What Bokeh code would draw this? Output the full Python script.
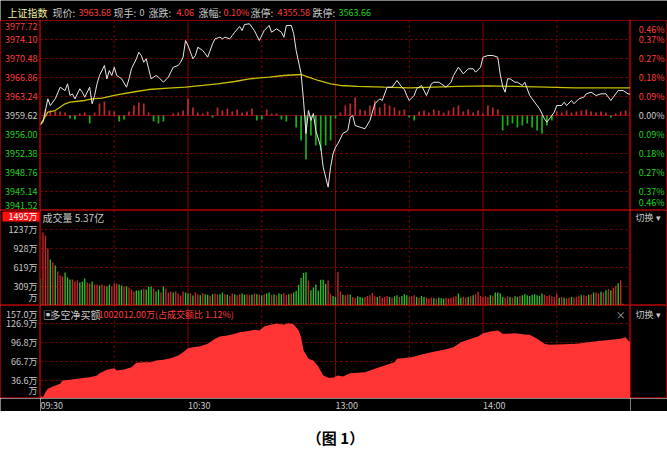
from bokeh.plotting import figure
from bokeh.layouts import column, row
from bokeh.models import Range1d, Span, BoxAnnotation
from bokeh.core.properties import value
from bokeh.embed import file_html
from bokeh.resources import INLINE

# ---------------- data ----------------
prev_close = 3959.62
price_ticks = [3977.72, 3974.10, 3970.48, 3966.86, 3963.24, 3959.62,
               3956.00, 3952.38, 3948.76, 3945.14, 3941.52]
pct_labels = ["0.46%", "0.37%", "0.27%", "0.18%", "0.09%", "0.00%",
              "0.09%", "0.18%", "0.27%", "0.37%", "0.46%"]
time_ticks = [0, 60, 120, 180]
time_labels = ["09:30", "10:30", "13:00", "14:00"]
half_hour_ticks = [30, 90, 150, 210]

price_min = [0, 1, 3, 4, 6, 8, 10, 11, 12, 13, 14, 16, 17, 18, 20, 21, 22, 23, 24, 26,
             27, 28, 29, 30, 31, 32, 33, 35, 36, 37, 39, 40, 41, 42, 43, 44, 45, 47, 48, 50,
             52, 53, 54, 56, 57, 58, 59, 60, 62, 63, 64, 66, 67, 68, 70, 71, 73, 74, 75, 77,
             78, 79, 81, 82, 83, 85, 87, 89, 91, 93, 94, 96, 98, 99, 100, 102, 103, 104, 106, 107,
             108, 109, 110, 111, 112, 114, 115, 117, 118, 119, 120, 121, 123, 125, 126, 127, 128, 130, 132, 134,
             136, 138, 139, 141, 143, 145, 147, 148, 149, 150, 152, 153, 155, 157, 159, 160, 162, 163, 165, 167,
             168, 170, 172, 174, 176, 177, 179, 180, 182, 184, 186, 187, 188, 189, 190, 191, 193, 194, 196, 197,
             199, 201, 203, 205, 206, 207, 209, 210, 212, 213, 214, 216, 217, 219, 221, 222, 224, 226, 228, 230,
             232, 233, 235, 237, 239, 240]
price_val = [3957.85, 3958.34, 3962.80, 3961.52, 3962.80, 3965.01, 3964.38, 3965.66, 3963.43, 3963.75,
             3962.80, 3964.71, 3964.06, 3963.11, 3965.01, 3961.85, 3963.43, 3965.66, 3967.24, 3969.15,
             3966.61, 3968.19, 3967.24, 3968.82, 3967.24, 3966.92, 3966.61, 3965.01, 3966.61, 3968.52,
             3970.42, 3971.68, 3971.05, 3969.77, 3970.42, 3968.52, 3966.61, 3967.24, 3966.92, 3965.96,
             3966.92, 3967.87, 3968.82, 3969.15, 3969.77, 3970.73, 3973.91, 3972.96, 3970.42, 3971.05,
             3972.63, 3972.00, 3971.38, 3970.73, 3973.28, 3974.23, 3974.54, 3974.23, 3974.54, 3974.23,
             3974.86, 3975.49, 3976.58, 3975.81, 3976.96, 3977.09, 3975.81, 3973.91, 3975.81, 3976.77,
             3975.49, 3976.14, 3975.49, 3974.54, 3976.77, 3976.77, 3975.19, 3972.00, 3967.62, 3962.48,
             3956.19, 3960.57, 3958.67, 3960.00, 3956.76, 3953.58, 3949.77, 3945.96, 3949.77, 3952.32,
             3953.58, 3954.28, 3956.19, 3956.76, 3959.30, 3959.62, 3957.71, 3957.39, 3957.09, 3958.67,
             3961.85, 3962.80, 3962.48, 3965.01, 3965.01, 3966.29, 3965.01, 3964.60, 3963.43, 3962.48,
             3963.43, 3964.71, 3965.34, 3963.43, 3965.66, 3965.96, 3965.96, 3965.66, 3965.01, 3965.96,
             3967.24, 3968.82, 3967.56, 3968.52, 3968.52, 3967.87, 3968.82, 3970.73, 3971.05, 3971.05,
             3970.73, 3967.50, 3965.15, 3964.06, 3966.61, 3966.61, 3965.96, 3965.96, 3965.34, 3965.96,
             3963.43, 3962.15, 3960.90, 3958.99, 3958.34, 3958.99, 3960.25, 3961.52, 3961.52, 3962.15,
             3961.52, 3962.48, 3961.85, 3962.80, 3963.11, 3963.75, 3964.06, 3963.43, 3963.75, 3963.75,
             3962.48, 3963.11, 3964.38, 3964.38, 3963.75, 3963.68]

avg_min = [0, 3, 6, 10, 12, 18, 21, 25, 31, 39, 44, 52, 59, 66, 72, 79, 85, 93, 99, 106,
           109, 113, 118, 122, 129, 140, 150, 170, 182, 193, 206, 217, 240]
avg_val = [3957.90, 3960.25, 3960.57, 3961.85, 3962.15, 3962.48, 3962.80, 3962.92, 3963.56, 3964.19,
           3964.57, 3964.82, 3965.01, 3965.34, 3965.66, 3966.10, 3966.61, 3966.92, 3967.24, 3967.43,
           3966.92, 3966.29, 3965.66, 3965.34, 3965.15, 3965.01, 3964.90, 3965.15, 3965.28, 3965.15,
           3965.01, 3964.90, 3964.90]

# buy/sell strength bars in the price panel (every 2 minutes, offset from previous close)
strength_min = list(range(0, 241, 2))
strength_val = [0.00, 1.14, 0.95, 0.76, 0.76, 0.57, -0.57, -0.76, 0.38, 0.57,
                -1.52, 0.57, 2.29, 2.67, 0.95, 0.76, -1.14, -0.76, 0.76, 1.91,
                2.48, 2.29, 0.57, -1.14, -1.52, -1.14, 0.00, 0.38, 0.57, 0.95,
                3.24, 1.52, 0.57, 0.38, 0.76, -0.38, 1.52, 0.95, 1.33, 0.76,
                1.14, 0.57, 0.76, 1.33, -0.95, -0.76, 1.14, 0.38, 0.38, -0.76,
                -1.14, 0.00, -2.29, -4.76, -8.38, -3.81, -5.72, -6.67, -5.72, -4.76,
                -0.57, 0.57, 1.91, 2.29, 3.43, 1.14, 0.95, 1.91, 2.86, 1.52,
                2.29, 1.91, 1.52, 0.95, 1.14, -0.38, -0.95, 0.76, 0.95, 0.57,
                1.14, 0.95, 0.57, 0.95, 1.52, 1.91, 0.76, 1.14, 0.57, 0.95,
                0.38, 1.91, 1.52, 1.14, -2.86, -1.91, -1.52, -2.29, -1.91, -1.52,
                -2.29, -2.86, -3.43, -1.91, -0.95, 0.76, 0.57, 0.95, 0.57, 0.76,
                0.95, 1.14, 0.76, 0.57, 0.76, 0.57, -0.38, 0.38, 0.76, 0.95, 0.57]

# volume per minute (万股) and direction (R up / G down)
vol_min = list(range(241))
vol_val = [439, 1187, 1138, 927, 748, 700, 650, 553, 488, 471,
           537, 455, 423, 423, 390, 407, 374, 390, 439, 374,
           358, 390, 341, 341, 325, 341, 325, 309, 341, 309,
           358, 358, 341, 325, 309, 309, 293, 260, 228, 244,
           244, 260, 276, 260, 309, 309, 276, 228, 260, 211,
           309, 276, 211, 228, 211, 228, 195, 163, 228, 211,
           195, 195, 163, 211,
           184, 167, 200, 184, 173, 156, 184, 195, 173, 184,
           212, 184, 173, 156, 195, 184, 167, 184, 195, 173,
           184, 167, 173, 195, 184, 173, 167, 184, 195, 212,
           173, 184, 167, 195, 184, 200, 173, 184, 195, 212,
           240, 334, 446, 529, 540, 407, 250, 295, 340, 240,
           418, 418, 351, 407, 184, 156, 140,
           546, 223, 173, 167, 184, 173, 140, 128, 150, 140,
           128, 140, 156, 167, 200, 150, 140, 156, 128, 140,
           156, 140, 128, 150, 167, 140, 156, 184, 167, 140,
           150, 167, 140, 128, 156, 140, 128, 112, 128, 117,
           112, 128, 117, 112, 128, 117, 128, 140, 150, 195,
           128, 140, 128, 140, 150, 167, 184, 223, 156, 140,
           150, 140, 167, 156, 212, 212, 200, 140, 128, 150,
           140, 128, 150, 140, 156, 167, 184, 167, 156, 173,
           184, 167, 156, 195, 173, 156, 167, 150, 140, 195,
           128, 140, 128, 117, 128, 140, 128, 140, 150, 167,
           167, 156, 173, 184, 212, 212, 200, 223, 212, 250,
           267, 250, 284, 323, 362, 407, 30, 0, 0, 0]
vol_dir = ("GRRRGRGRRRGGGRRRGGGRRGRRGRRGGRRRGGRGRRRGGGRGGGRGGRGRRRGRRRRGGRGR"
           "RGRGGRGRRGGRGRRGRRGGRRGRGRGRGGRGRGGRRGRG"
           "GGGGGRGGGGGGGRRGG"
           "RRGRRGRRGGGRRRRRGRRRRGRGGRGGGRRRGRGGRRRGRGGGRRRRRG"
           "GRRGRGRRRRRRGRGGGGRRGRGGRGGGGGGGGGRRRRRRGRGRRGRRRG"
           "RRGRGRRGRGRGRRGRRGRR")

vol_ticks = [1237, 928, 619, 309]
vol_tick_labels = ["1237万", "928万", "619万", "309万"]
vol_max_label = "1495万"
vol_total_label = "成交量 5.37亿"

# 多空净买额 (万)
nb_min = [0, 1, 2, 3, 5, 8, 9, 12, 15, 18, 20, 23, 24, 27, 30, 31, 34, 37, 39, 42,
          45, 47, 50, 53, 56, 58, 60, 62, 65, 68, 71, 73, 76, 79, 81, 84, 87, 89, 91, 94,
          96, 99, 101, 103, 105, 106, 107, 109, 111, 113, 115, 117, 119, 121, 123, 126, 132, 136, 140, 144,
          145, 151, 155, 159, 164, 168, 171, 175, 178, 180, 183, 186, 188, 190, 193, 197, 199, 202, 205, 207,
          213, 218, 222, 226, 229, 233, 236, 238, 239, 240]
nb_val = [12.8, 10.2, 18.1, 23.4, 27.1, 31.4, 36.6, 37.7, 39.3, 40.9, 41.8, 44.5, 48.2, 53.5, 56.1, 52.4, 54.0, 57.7, 64.6, 65.6,
          65.6, 68.3, 69.4, 71.9, 76.2, 81.4, 87.8, 89.4, 90.9, 94.7, 102.7, 106.3, 107.9, 110.6, 113.2, 114.7, 117.0, 115.8, 122.1, 125.3,
          126.4, 125.3, 127.4, 125.3, 115.8, 105.2, 84.1, 70.9, 68.3, 58.8, 44.5, 40.9, 40.9, 44.5, 42.9, 48.2, 49.8, 55.1, 60.4, 65.6,
          71.0, 73.5, 77.8, 81.4, 85.3, 89.4, 97.3, 102.7, 106.3, 111.5, 114.2, 115.8, 110.6, 110.6, 111.5, 109.5, 109.1, 102.7, 94.7, 93.1,
          93.9, 94.7, 96.8, 98.9, 100.0, 101.5, 102.7, 105.2, 100.0, 97.3]
nb_ticks = [126.9, 96.8, 66.7, 36.6]
nb_tick_labels = ["126.9万", "96.8万", "66.7万", "36.6万"]
nb_max_label = "157.0万"
nb_title = "多空净买额"
nb_info = "1002012.00万(占成交额比 1.12%)"

header_texts = ["上证指数", "现价:", "3963.68", "现手:", "0", "涨跌:", "4.06", "涨幅:", "0.10%",
                "涨停:", "4355.58", "跌停:", "3563.66"]

# ---------------- style ----------------
BG = "#000000"
FRAME = "#8a0000"
GRID = "#9a0000"
RED_T = "#ff3c3c"
GREEN_T = "#20d020"
GRAY_T = "#c8c8c8"
FONT = value("Noto Sans CJK SC")
FS = "10px"
FSN = "9px"

W_L, W_M, W_R = 40, 590, 37
H_HEAD, H_P, H_V, H_N, H_X, H_CAP = 20, 190, 95, 93, 13, 44

xr = Range1d(0, 240)
yr_p = Range1d(3941.52, 3977.72)
yr_v = Range1d(0, 1545)
yr_n = Range1d(8.1, 155.4)


def panel(w, h, x_range, y_range, outline=FRAME, bg=BG):
    p = figure(width=w, height=h, x_range=x_range, y_range=y_range,
               x_axis_location=None, y_axis_location=None, toolbar_location=None,
               output_backend="svg", min_border=0, background_fill_color=bg,
               border_fill_color=bg, outline_line_color=outline)
    p.grid.visible = False
    return p


def time_grid(p):
    for t in half_hour_ticks:
        p.add_layout(Span(location=t, dimension="height", line_color=GRID,
                          line_dash="2 3", line_width=1, level="underlay"))
    for t in time_ticks[1:]:
        p.add_layout(Span(location=t, dimension="height", line_color=FRAME,
                          line_width=1, level="underlay"))


def hgrid(p, levels, solid=()):
    for v in levels:
        p.add_layout(Span(location=v, dimension="width", line_color=GRID,
                          line_dash="2 3", line_width=1, level="underlay"))
    for v in solid:
        p.add_layout(Span(location=v, dimension="width", line_color=FRAME,
                          line_width=1, level="underlay"))


def txt(p, x, y, t, color, align="left", baseline="middle", size=FS, style="normal", yoff=0):
    p.text(x=x, y=y, text=t, text_color=color, text_align=align, text_baseline=baseline,
           text_font=FONT, text_font_size=size, text_font_style=style, y_offset=yoff)


def lvl_color(v):
    if abs(v - prev_close) < 1e-6:
        return GRAY_T
    return RED_T if v > prev_close else GREEN_T


# ---------------- header ----------------
head = panel(W_L + W_M + W_R, H_HEAD, Range1d(0, 667), Range1d(0, 20), outline=None)
head_x = [7, 52, 78, 113, 139, 148, 176, 198, 223, 250, 277, 312, 338]
head_c = ["#f0f0a0", GRAY_T, RED_T, GRAY_T, GRAY_T, GRAY_T, RED_T, GRAY_T, RED_T,
          GRAY_T, RED_T, GRAY_T, GREEN_T]
for hx, ht, hc in zip(head_x, header_texts, head_c):
    is_num = ht[0].isdigit()
    txt(head, [hx], [8], [ht], hc, size=(FSN if is_num else FS))

# ---------------- price panel ----------------
pm = panel(W_M, H_P, xr, yr_p)
time_grid(pm)
hgrid(pm, [v for v in price_ticks[1:-1] if abs(v - prev_close) > 1e-6], solid=[prev_close])
pm.vbar(x=strength_min, bottom=prev_close, top=[prev_close + v for v in strength_val],
        width=0.7, line_width=0,
        fill_color=["#c02828" if v >= 0 else "#18b018" for v in strength_val])
pm.line(avg_min, avg_val, line_color="#c8c000", line_width=1.3)
pm.line(price_min, price_val, line_color="#e8e8e8", line_width=1)

pl = panel(W_L, H_P, Range1d(0, W_L), yr_p)
pr = panel(W_R, H_P, Range1d(0, W_R), yr_p)
for i, v in enumerate(price_ticks):
    if i == 0:
        base, off = "top", 2
    elif i == len(price_ticks) - 1:
        base, off = "bottom", -2
    else:
        base, off = "middle", 0
    txt(pl, [37], [v], ["%.2f" % v], lvl_color(v), align="right", baseline=base, size=FSN, yoff=off)
    txt(pr, [34], [v], [pct_labels[i]], lvl_color(v), align="right", baseline=base, size=FSN, yoff=off)

# ---------------- volume panel ----------------
vm = panel(W_M, H_V, xr, yr_v)
time_grid(vm)
hgrid(vm, vol_ticks)
vm.vbar(x=vol_min, top=vol_val, width=0.55, line_width=0,
        fill_color=["#c82828" if d == "R" else "#28c028" for d in vol_dir])
txt(vm, [0.8], [1431], [vol_total_label], GRAY_T)

vl = panel(W_L, H_V, Range1d(0, W_L), yr_v)
for v, t in zip(vol_ticks, vol_tick_labels):
    txt(vl, [37], [v], [t], GRAY_T, align="right", size=FSN)
txt(vl, [37], [0], ["万"], GRAY_T, align="right", baseline="bottom", size=FSN, yoff=-2)
vl.add_layout(BoxAnnotation(left=2, right=39, top=1530, bottom=1365, fill_color="#ff1010",
                            fill_alpha=1.0, line_color=None, level="underlay"))
txt(vl, [37], [1448], [vol_max_label], "#ffffff", align="right", size=FSN)
vr = panel(W_R, H_V, Range1d(0, W_R), yr_v)
txt(vr, [5], [1431], ["切换 ▾"], GRAY_T, size=FSN)

# ---------------- net buy panel ----------------
nm = panel(W_M, H_N, xr, yr_n)
time_grid(nm)
hgrid(nm, nb_ticks)
nm.varea(x=nb_min, y1=[0] * len(nb_min), y2=nb_val, fill_color="#ff3535")
txt(nm, [1.0], [155.4], ["▣"], GRAY_T, baseline="top", yoff=1)
txt(nm, [4.1], [155.4], [nb_title], GRAY_T, baseline="top", yoff=1)
txt(nm, [23.6], [155.4], [nb_info], RED_T, size=FSN, baseline="top", yoff=2)
txt(nm, [236], [155.4], ["×"], "#a0a0a0", align="center", baseline="top", yoff=1)

nl = panel(W_L, H_N, Range1d(0, W_L), yr_n)
for v, t in zip(nb_ticks, nb_tick_labels):
    txt(nl, [37], [v], [t], GRAY_T, align="right", size=FSN)
txt(nl, [37], [155.4], [nb_max_label], GRAY_T, align="right", baseline="top", size=FSN, yoff=2)
txt(nl, [37], [8.1], ["万"], GRAY_T, align="right", baseline="bottom", size=FSN, yoff=-2)
nr = panel(W_R, H_N, Range1d(0, W_R), yr_n)
txt(nr, [5], [155.4], ["切换 ▾"], GRAY_T, size=FSN, baseline="top", yoff=2)

# ---------------- time labels ----------------
xl = panel(W_L, H_X, Range1d(0, 1), Range1d(0, 1), outline=None)
xm = panel(W_M, H_X, xr, Range1d(0, H_X), outline=None)
xrr = panel(W_R, H_X, Range1d(0, 1), Range1d(0, 1), outline=None)
txt(xm, time_ticks, [6.5] * len(time_ticks), time_labels, GRAY_T, size=FSN)

# ---------------- caption ----------------
cap = panel(W_L + W_M + W_R, H_CAP, Range1d(0, 667), Range1d(0, H_CAP), outline=None, bg="#ffffff")
txt(cap, [335], [18], ["（图 1）"], "#000000", align="center", size="15px", style="bold")

layout = column(head,
                row(pl, pm, pr),
                row(vl, vm, vr),
                row(nl, nm, nr),
                row(xl, xm, xrr),
                cap)

open("out.html", "w").write(file_html(layout, INLINE))
